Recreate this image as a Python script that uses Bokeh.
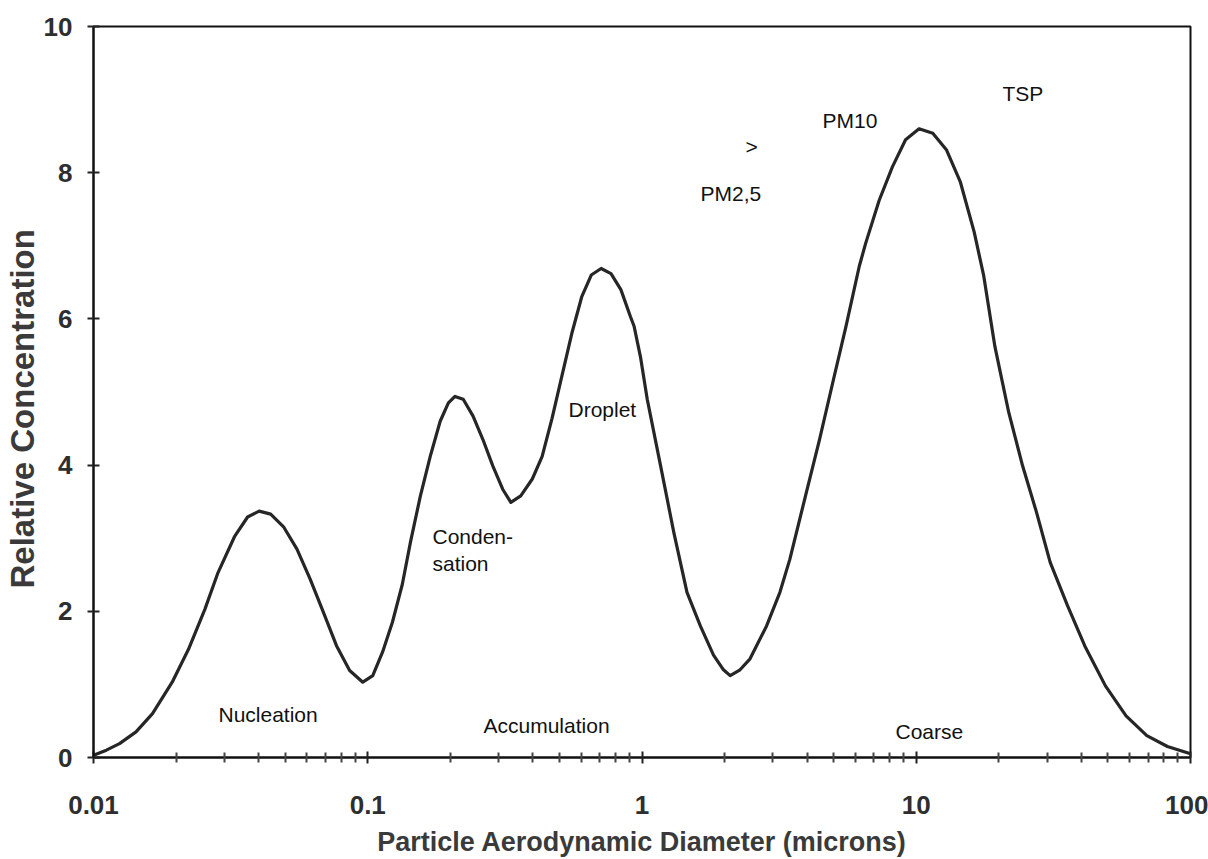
from bokeh.plotting import figure
from bokeh.models import Range1d, FixedTicker, CustomJSTickFormatter, ColumnDataSource, Title
from bokeh.core.properties import value
from bokeh.embed import file_html
from bokeh.resources import INLINE

# ---- data ----
diameter = [0.01, 0.01114, 0.01244, 0.01429, 0.01641, 0.01936, 0.0222, 0.02549, 0.02845, 0.03266,
            0.03647, 0.04018, 0.04426, 0.04943, 0.05519, 0.06166, 0.06887, 0.07691, 0.0859, 0.09594,
            0.1043, 0.1132, 0.123, 0.1337, 0.1432, 0.1556, 0.169, 0.1837, 0.1968, 0.208,
            0.2229, 0.2421, 0.263, 0.2857, 0.3105, 0.3325, 0.3613, 0.3981, 0.4325, 0.4699,
            0.5105, 0.5546, 0.6026, 0.6531, 0.7096, 0.7709, 0.8375, 0.9078, 0.9358, 0.9885,
            1.045, 1.169, 1.306, 1.459, 1.632, 1.823, 1.982, 2.096, 2.278, 2.477,
            2.846, 3.183, 3.459, 3.971, 4.439, 4.962, 5.546, 6.198, 6.546, 7.322,
            8.185, 9.141, 10.24, 11.49, 12.9, 14.49, 16.26, 17.6, 19.36, 21.74,
            24.42, 27.42, 30.79, 35.58, 41.13, 48.96, 58.21, 69.3, 82.4, 100.0]
concentration = [0.03, 0.10, 0.19, 0.35, 0.60, 1.03, 1.48, 2.03, 2.53, 3.02,
                 3.29, 3.37, 3.33, 3.15, 2.85, 2.44, 1.99, 1.53, 1.19, 1.03,
                 1.12, 1.44, 1.85, 2.37, 2.95, 3.58, 4.12, 4.60, 4.85, 4.94,
                 4.90, 4.67, 4.35, 3.99, 3.67, 3.49, 3.58, 3.81, 4.12, 4.64,
                 5.22, 5.80, 6.30, 6.60, 6.69, 6.62, 6.40, 6.03, 5.90, 5.47,
                 4.90, 3.99, 3.08, 2.26, 1.80, 1.40, 1.20, 1.12, 1.20, 1.35,
                 1.80, 2.26, 2.71, 3.62, 4.35, 5.13, 5.90, 6.72, 7.04, 7.62,
                 8.08, 8.45, 8.60, 8.54, 8.31, 7.87, 7.19, 6.60, 5.62, 4.72,
                 3.99, 3.36, 2.67, 2.08, 1.53, 0.98, 0.57, 0.30, 0.15, 0.05]

x_tick_values = [0.01, 0.1, 1, 10, 100]
x_tick_labels = ["0.01", "0.1", "1", "10", "100"]
y_tick_values = [0, 2, 4, 6, 8, 10]

label_texts = ["Nucleation", "Conden-", "sation", "Droplet", "Accumulation",
               "PM2,5", ">", "PM10", "TSP", "Coarse"]
label_x = [0.02856, 0.1722, 0.1722, 0.5395, 0.2643, 1.634, 2.385, 4.55, 20.63, 8.40]
label_y = [0.587, 3.03, 2.66, 4.76, 0.437, 7.72, 8.36, 8.72, 9.09, 0.355]

x_title = "Particle Aerodynamic Diameter (microns)"
y_title = "Relative Concentration"

# minor ticks 2..9 in each decade
minor = []
for e in (0.01, 0.1, 1, 10):
    for k in range(2, 10):
        minor.append(round(k * e, 6))

W, H = 1208, 859
p = figure(width=W, height=H, x_axis_type="log",
           x_range=Range1d(0.01, 100), y_range=Range1d(0, 10),
           output_backend="svg", toolbar_location=None,
           min_border_left=93, min_border_right=18, min_border_top=26, min_border_bottom=100)
p.xgrid.visible = False
p.ygrid.visible = False
p.outline_line_color = "#111111"
p.outline_line_width = 2
p.background_fill_color = "white"
p.border_fill_color = "white"

p.line(diameter, concentration, line_color="#262626", line_width=3.2,
       line_join="round", line_cap="round")

src = ColumnDataSource(dict(x=label_x, y=label_y, t=label_texts))
p.text(x="x", y="y", text="t", source=src, text_font=value("Liberation Sans"),
       text_font_size="21px", text_color="#111111", text_align="left",
       text_baseline="middle")

xa = p.xaxis[0]
xa.ticker = FixedTicker(ticks=x_tick_values, minor_ticks=minor)
xa.formatter = CustomJSTickFormatter(args=dict(vals=x_tick_values, labs=x_tick_labels), code="""
for (let i = 0; i < vals.length; i++) { if (Math.abs(Math.log10(tick) - Math.log10(vals[i])) < 1e-6) return labs[i]; }
return '';
""")

ya = p.yaxis[0]
ya.ticker = FixedTicker(ticks=y_tick_values, minor_ticks=[])

for ax in (xa, ya):
    ax.axis_line_color = "#111111"
    ax.axis_line_width = 2
    ax.major_tick_line_color = "#222222"
    ax.major_tick_line_width = 2
    ax.minor_tick_line_color = "#444444"
    ax.minor_tick_line_width = 2
    ax.major_tick_in = 6
    ax.major_tick_out = 6
    ax.minor_tick_in = 5
    ax.minor_tick_out = 5
    ax.major_label_text_font = "Liberation Sans"
    ax.major_label_text_font_style = "bold"
    ax.major_label_text_color = "#2e2e2e"

xa.major_label_text_font_size = "26px"
xa.major_label_standoff = 32
ya.major_label_text_font_size = "26px"
ya.major_label_standoff = 15

# x title as the axis label
xa.axis_label = x_title
xa.axis_label_text_font = "Liberation Sans"
xa.axis_label_text_font_style = "bold"
xa.axis_label_text_font_size = "27px"
xa.axis_label_text_color = "#3a3a3a"
xa.axis_label_standoff = 10

# y title as a side title (offset so it sits where the reference has it)
p.add_layout(Title(text=y_title, align="left", offset=169, standoff=0,
                   text_font="Liberation Sans", text_font_style="bold",
                   text_font_size="33px", text_color="#3a3a3a"), "left")

open("out.html", "w").write(file_html(p, INLINE))
